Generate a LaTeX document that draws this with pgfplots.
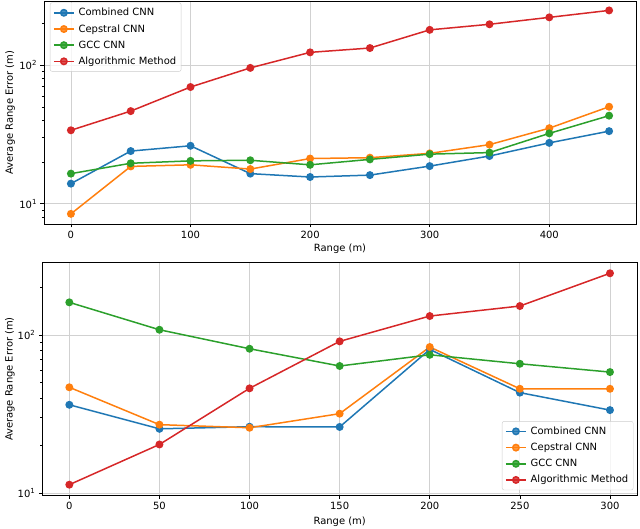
\documentclass[border=0pt]{standalone}
\usepackage{fontspec}
\setmainfont{DejaVu Sans}
\usepackage{pgfplots}
\pgfplotsset{compat=1.18}
\definecolor{c0}{HTML}{1F77B4}
\definecolor{c1}{HTML}{FF7F0E}
\definecolor{c2}{HTML}{2CA02C}
\definecolor{c3}{HTML}{D62728}
\pgfplotsset{
 mystyle/.style={
  scale only axis,
  tick align=outside, tick pos=left,
  xmajorgrids, ymajorgrids, grid style={black!18, line width=0.8bp},
  major tick length=3.5bp, minor tick length=2bp,
  every tick/.style={black, line width=0.6bp},
  axis line style={line width=0.8bp},
  ticklabel style={font=\fontsize{10}{12}\selectfont},
  label style={font=\fontsize{10}{12}\selectfont},
  /pgf/number format/assume math mode=true,
  every axis plot/.append style={line width=1.5bp, mark=*, mark size=3.2bp},
  legend cell align=left,
  legend image code/.code={\draw[mark repeat=2,mark phase=2] plot coordinates {(0bp,0bp)(10bp,0bp)(20bp,0bp)};},
  legend style={draw=black!20, rounded corners=2pt, fill=white, fill opacity=0.8, text opacity=1,
    font=\fontsize{10}{12}\selectfont, inner xsep=3bp, inner ysep=3.5bp, row sep=3.2bp,
    /tikz/every odd column/.append style={column sep=2bp}},
  ylabel={Average Range Error (m)}, xlabel={Range (m)},
  ytick={10,100}, yticklabels={10\textsuperscript{1},10\textsuperscript{2}},
 }
}
\begin{document}
\begin{tikzpicture}
\path[use as bounding box] (0,0) rectangle (640bp,529bp);
\begin{semilogyaxis}[mystyle, at={(44bp,305bp)}, anchor=south west,
  width=592bp, height=223bp,
  xmin=-22.5, xmax=472.5, ymin=7.15, ymax=290,
  xtick={0,100,200,300,400},
  minor ytick={8,9,20,30,40,50,60,70,80,90,200},
  ylabel style={at={(axis description cs:-0.0574,0.5)}, anchor=center},
  xlabel style={at={(axis description cs:0.5,-0.112)}, anchor=center},
  legend style={at={(axis description cs:0.01,0.993)}, anchor=north west},
]
\addplot[c0] coordinates {(0,13.97)(50,24.0)(100,26.2)(150,16.5)(200,15.6)(250,16.1)(300,18.7)(350,22.1)(400,27.5)(450,33.4)};
\addplot[c1] coordinates {(0,8.46)(50,18.6)(100,19.1)(150,17.8)(200,21.2)(250,21.5)(300,23.1)(350,26.7)(400,35.1)(450,50.1)};
\addplot[c2] coordinates {(0,16.5)(50,19.6)(100,20.4)(150,20.6)(200,19.1)(250,20.9)(300,22.8)(350,23.4)(400,32.2)(450,43.2)};
\addplot[c3] coordinates {(0,33.9)(50,46.6)(100,69.5)(150,95.5)(200,123.6)(250,132.8)(300,179.6)(350,197)(400,221)(450,248)};
\legend{Combined CNN,Cepstral CNN,GCC CNN,Algorithmic Method}
\end{semilogyaxis}
\begin{semilogyaxis}[mystyle, at={(42.3bp,33.7bp)}, anchor=south west,
  width=594.7bp, height=232.6bp,
  xmin=-15, xmax=315, ymin=9.68, ymax=287,
  xtick={0,50,100,150,200,250,300},
  minor ytick={20,30,40,50,60,70,80,90,200},
  ylabel style={at={(axis description cs:-0.0543,0.5)}, anchor=center},
  xlabel style={at={(axis description cs:0.5,-0.1126)}, anchor=center},
  legend style={at={(axis description cs:0.994,0.022)}, anchor=south east},
]
\addplot[c0] coordinates {(0,36.2)(50,25.5)(100,26.3)(150,26.2)(200,81.1)(250,43.2)(300,33.5)};
\addplot[c1] coordinates {(0,46.7)(50,27.1)(100,25.9)(150,31.8)(200,84.0)(250,45.7)(300,45.7)};
\addplot[c2] coordinates {(0,161)(50,108)(100,81.9)(150,63.7)(200,75.0)(250,65.8)(300,58.3)};
\addplot[c3] coordinates {(0,11.3)(50,20.3)(100,46.0)(150,91.2)(200,131.9)(250,152.6)(300,246)};
\legend{Combined CNN,Cepstral CNN,GCC CNN,Algorithmic Method}
\end{semilogyaxis}
\end{tikzpicture}
\end{document}
